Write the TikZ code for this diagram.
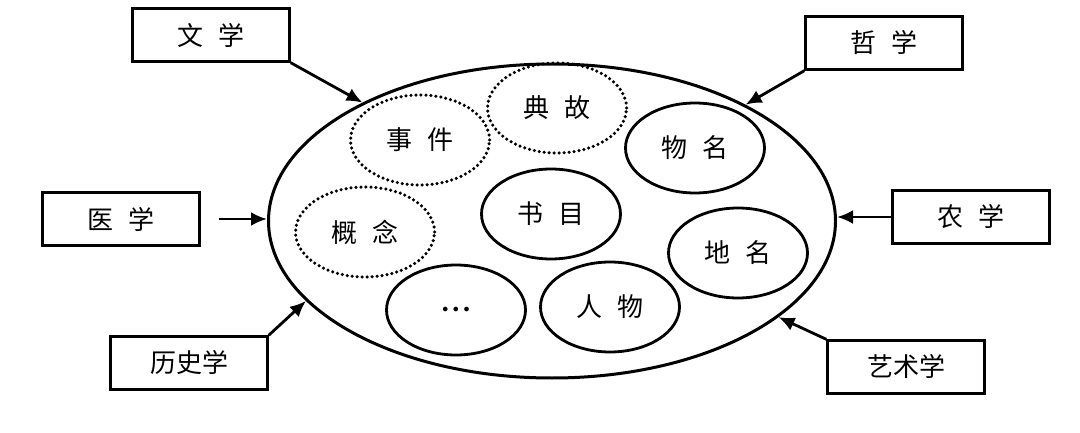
\documentclass[tikz,border=0pt]{standalone}
\usepackage{fontspec}
\setmainfont{Noto Sans CJK SC}
\usepackage{tikz}
\usetikzlibrary{arrows.meta,shapes.geometric}

\begin{document}
\begin{tikzpicture}[
x=1pt, y=-1pt,
font=\fontsize{26pt}{30pt}\selectfont,
subject/.style={draw=black, line width=2.4pt, minimum width=157pt, minimum height=53pt, inner sep=0pt},
topic/.style={draw=black, ellipse, line width=2.8pt, minimum width=139pt, minimum height=90pt, inner sep=0pt},
vague/.style={topic, dash pattern=on 0pt off 5pt, line cap=round, line width=3.5pt},
feed/.style={-{Latex[length=16pt,width=14pt]}, line width=2.8pt},
]
\useasboundingbox (0,0) rectangle (1080,433);

% outer field
\node[draw=black, ellipse, line width=3pt, minimum width=567pt, minimum height=314pt, inner sep=0pt] (field) at (552,221) {};

% topics inside
\node[vague] (shijian) at (420,140) {事\hspace{0.6em}件};
\node[vague] (diangu) at (557,108) {典\hspace{0.6em}故};
\node[topic] (wuming) at (695,148) {物\hspace{0.6em}名};
\node[vague] (gainian) at (365,232) {概\hspace{0.6em}念};
\node[topic] (shumu) at (551,214) {书\hspace{0.6em}目};
\node[topic] (diming) at (738,253) {地\hspace{0.6em}名};
\node[topic, font=\fontsize{12pt}{12pt}\selectfont] (etc) at (456,310) {$\bullet\,\bullet\,\bullet$};
\node[topic] (renwu) at (610,307) {人\hspace{0.6em}物};

% subjects around
\node[subject] (wenxue) at (211,35) {文\hspace{0.6em}学};
\node[subject] (zhexue) at (884,43) {哲\hspace{0.6em}学};
\node[subject] (yixue) at (121,219) {医\hspace{0.6em}学};
\node[subject] (nongxue) at (971,217) {农\hspace{0.6em}学};
\node[subject] (lishixue) at (189,363) {历史学};
\node[subject] (yishuxue) at (906,367) {艺术学};

\draw[feed] (wenxue.south east) to (field.148);
\draw[feed] (zhexue.south west) to (field.31);
\draw[feed, shorten <=18pt] (yixue.east) to (yixue.east -| field.west);
\draw[feed] (nongxue.west) to (nongxue.west -| field.east);
\draw[feed] (lishixue.north east) to (field.198);
\draw[feed] (yishuxue.north west) to (field.337);

\end{tikzpicture}
\end{document}
